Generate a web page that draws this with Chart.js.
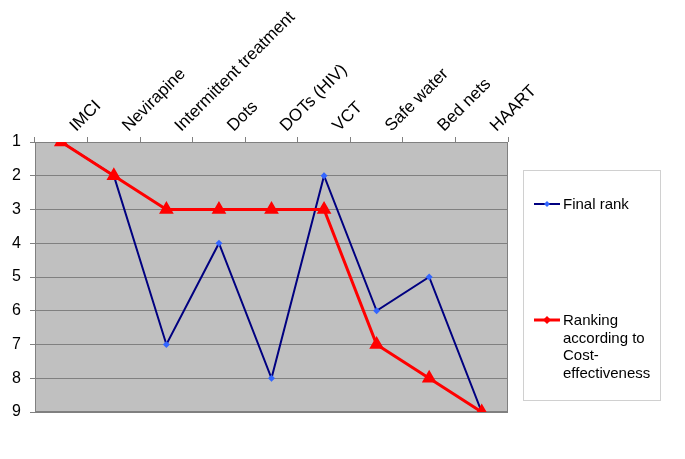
<!DOCTYPE html>
<html><head><meta charset="utf-8">
<script src="https://cdn.jsdelivr.net/npm/chart.js@4"></script>
<style>
html,body{margin:0;padding:0;background:#fff;}
#wrap{position:relative;width:685px;height:459px;}
#legend{position:absolute;left:523px;top:170px;width:138px;height:231px;border:1px solid #d0d0d0;box-sizing:border-box;font-family:"Liberation Sans",Arial,sans-serif;font-size:15px;color:#000;}
.item{position:absolute;left:10px;display:flex;align-items:flex-start;}
.item canvas{margin-top:3px;}
.txt{line-height:17.5px;margin-left:3px;}
</style>
</head><body>
<div id="wrap">
<canvas id="c" width="685" height="459"></canvas>
<div id="legend">
 <div class="item" style="top:24px"><canvas id="l1" width="26" height="12"></canvas><div class="txt">Final rank</div></div>
 <div class="item" style="top:140px"><canvas id="l2" width="26" height="12"></canvas><div class="txt">Ranking<br>according to<br>Cost-<br>effectiveness</div></div>
</div>
</div>
<script>
const categories = ["IMCI","Nevirapine","Intermittent treatment","Dots","DOTs (HIV)","VCT","Safe water","Bed nets","HAART"];
const finalRank = [1,2,7,4,8,2,6,5,9];
const costEffRank = [1,2,3,3,3,3,7,8,9];
const yTicks = [1,2,3,4,5,6,7,8,9];
const seriesNames = ["Final rank","Ranking according to Cost-effectiveness"];

const bgPlugin = {
  id:'bg',
  beforeDraw(chart){
    const a = chart.chartArea, ctx = chart.ctx;
    ctx.save();
    ctx.fillStyle = '#c0c0c0';
    ctx.fillRect(a.left, a.top, a.right-a.left, a.bottom-a.top);
    ctx.restore();
  }
};
const borderPlugin = {
  id:'border',
  beforeDatasetsDraw(chart){
    const a = chart.chartArea, ctx = chart.ctx;
    ctx.save();
    ctx.strokeStyle = '#808080';
    ctx.lineWidth = 1;
    ctx.strokeRect(a.left+0.5, a.top+0.5, a.right-a.left-1, a.bottom-a.top-1);
    ctx.restore();
  }
};

new Chart(document.getElementById('c'), {
  type:'line',
  data:{
    labels: categories,
    datasets:[
      {label:seriesNames[0], data:finalRank, borderColor:'#000080', borderWidth:2,
       pointStyle:'rectRot', pointRadius:3.5, pointBackgroundColor:'#3366ff', pointBorderColor:'#3366ff', pointBorderWidth:0, tension:0, order:2},
      {label:seriesNames[1], data:costEffRank, borderColor:'#ff0000', borderWidth:3,
       pointStyle:'triangle', pointRadius:5.5, pointBackgroundColor:'#ff0000', pointBorderColor:'#ff0000', tension:0, order:1}
    ]
  },
  options:{
    responsive:false, animation:false,
    layout:{padding:{left:4,right:177,top:0,bottom:47}},
    plugins:{legend:{display:false}, tooltip:{enabled:false}},
    scales:{
      x:{position:'top', offset:true,
         grid:{offset:true, drawOnChartArea:false, drawTicks:true, tickLength:5, color:'#808080'},
         border:{display:false},
         ticks:{color:'#000', font:{family:'"Liberation Sans", Arial, sans-serif', size:17}, maxRotation:45, minRotation:45, padding:1, labelOffset:26},
         afterFit(s){ s.height = 142; }
      },
      y:{reverse:true, min:1, max:9,
         grid:{color:'#808080', drawTicks:true, tickLength:5},
         border:{display:false},
         ticks:{stepSize:1, color:'#000', font:{family:'"Liberation Sans", Arial, sans-serif', size:16}, padding:9,
           callback:(v)=> yTicks.includes(v) ? String(v) : ''},
         afterFit(s){ s.width = 31; }
      }
    }
  },
  plugins:[bgPlugin, borderPlugin]
});

function legendIcon(id, color, lw, mcolor, r){
  const cv = document.getElementById(id), ctx = cv.getContext('2d');
  ctx.strokeStyle = color; ctx.lineWidth = lw;
  ctx.beginPath(); ctx.moveTo(0,6); ctx.lineTo(26,6); ctx.stroke();
  ctx.fillStyle = mcolor; ctx.beginPath();
  ctx.moveTo(13,6-r); ctx.lineTo(13+r,6); ctx.lineTo(13,6+r); ctx.lineTo(13-r,6);
  ctx.closePath(); ctx.fill();
}
legendIcon('l1','#000080',2,'#3366ff',3);
legendIcon('l2','#ff0000',3,'#ff0000',4);
</script>
</body></html>
